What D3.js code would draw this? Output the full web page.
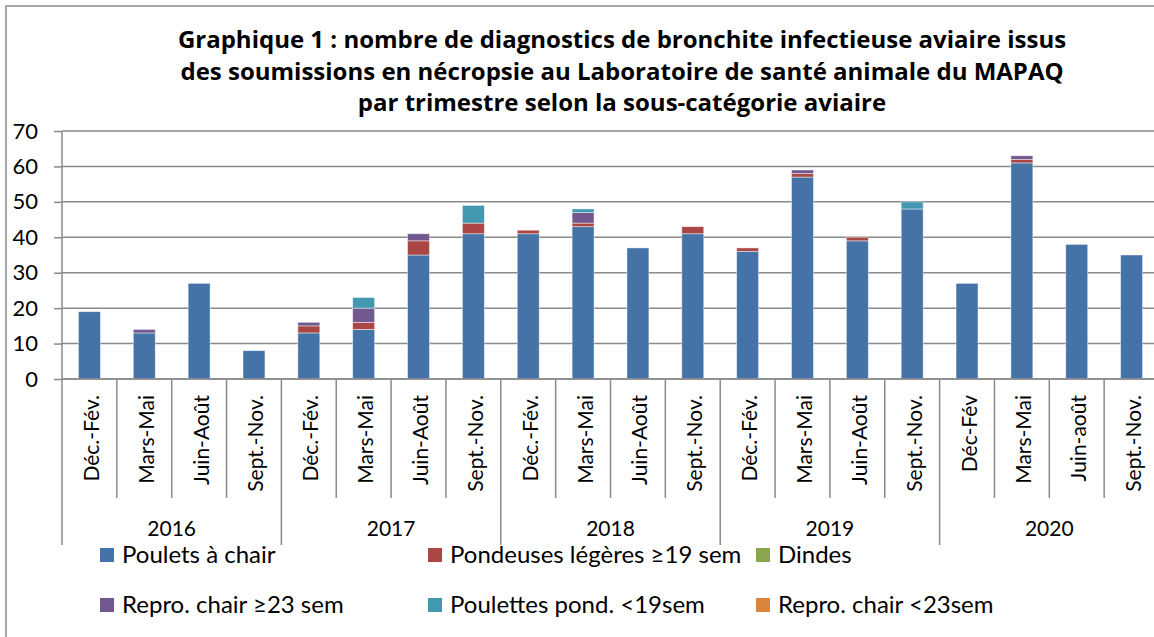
<!DOCTYPE html>
<html>
<head>
<meta charset="utf-8">
<script src="https://cdn.jsdelivr.net/npm/d3@7"></script>
<style>
  body { margin: 0; background: #fff; }
  svg { display: block; font-family: Lato, "Open Sans", sans-serif; }
</style>
</head>
<body>
<svg id="chart" width="1154" height="637"></svg>
<script>
// ---- data ----
var titleLines = [
  "Graphique 1 : nombre de diagnostics de bronchite infectieuse aviaire issus",
  "des soumissions en nécropsie au Laboratoire de santé animale du MAPAQ",
  "par trimestre selon la sous-catégorie aviaire"
];
var years = ["2016", "2017", "2018", "2019", "2020"];
var quarters = [
  "Déc.-Fév.", "Mars-Mai", "Juin-Août", "Sept.-Nov.",
  "Déc.-Fév.", "Mars-Mai", "Juin-Août", "Sept.-Nov.",
  "Déc.-Fév.", "Mars-Mai", "Juin-Août", "Sept.-Nov.",
  "Déc.-Fév.", "Mars-Mai", "Juin-Août", "Sept.-Nov.",
  "Déc-Fév", "Mars-Mai", "Juin-août", "Sept.-Nov."
];
var seriesNames = ["Poulets à chair", "Pondeuses légères ≥19 sem", "Dindes",
  "Repro. chair ≥23 sem", "Poulettes pond. <19sem", "Repro. chair <23sem"];
var seriesColors = ["#4572A7", "#AA4643", "#89A54E", "#71588F", "#4198AF", "#DB843D"];

var poulets    = [19, 13, 27, 8, 13, 14, 35, 41, 41, 43, 37, 41, 36, 57, 39, 48, 27, 61, 38, 35];
var pondeuses  = [0, 0, 0, 0, 2, 2, 4, 3, 1, 1, 0, 2, 1, 1, 1, 0, 0, 1, 0, 0];
var dindes     = [0, 0, 0, 0, 0, 0, 0, 0, 0, 0, 0, 0, 0, 0, 0, 0, 0, 0, 0, 0];
var reproGe23  = [0, 1, 0, 0, 1, 4, 2, 0, 0, 3, 0, 0, 0, 1, 0, 0, 0, 1, 0, 0];
var poulettes  = [0, 0, 0, 0, 0, 3, 0, 5, 0, 1, 0, 0, 0, 0, 0, 2, 0, 0, 0, 0];
var reproLt23  = [0, 0, 0, 0, 0, 0, 0, 0, 0, 0, 0, 0, 0, 0, 0, 0, 0, 0, 0, 0];
var yTicks = [0, 10, 20, 30, 40, 50, 60, 70];

var allSeries = [poulets, pondeuses, dindes, reproGe23, poulettes, reproLt23];

// table for d3.stack
var rows = quarters.map(function(q, i) {
  var r = { idx: i };
  seriesNames.forEach(function(s, k) { r[s] = allSeries[k][i]; });
  return r;
});

// ---- layout ----
var plotLeft = 62, plotRight = 1159, plotTop = 131, plotBottom = 379;
var svg = d3.select("#chart");
var grey = "#8a8a8a";

// chart frame (right and bottom edges fall outside the picture)
svg.append("rect")
  .attr("x", 6).attr("y", 6).attr("width", 1170).attr("height", 660)
  .attr("fill", "none").attr("stroke", grey).attr("stroke-width", 1.5);

// title
svg.append("g").selectAll("text")
  .data(titleLines)
  .enter().append("text")
  .attr("x", 622)
  .attr("y", function(d, i) { return 48 + i * 31.5; })
  .attr("text-anchor", "middle")
  .attr("font-family", "'Open Sans', sans-serif")
  .attr("font-weight", "bold")
  .attr("font-size", 24)
  .attr("fill", "#000")
  .text(function(d) { return d; });

var x = d3.scaleBand()
  .domain(d3.range(quarters.length))
  .range([plotLeft, plotRight])
  .paddingInner(0.6)
  .paddingOuter(0.3);

var y = d3.scaleLinear().domain([0, 70]).range([plotBottom, plotTop]);

// gridlines
svg.append("g").selectAll("line")
  .data(yTicks)
  .enter().append("line")
  .attr("x1", plotLeft).attr("x2", plotRight)
  .attr("y1", function(d) { return y(d); })
  .attr("y2", function(d) { return y(d); })
  .attr("stroke", grey).attr("stroke-width", 1.5);

// y axis
var yAxis = svg.append("g")
  .attr("transform", "translate(" + plotLeft + ",0)")
  .call(d3.axisLeft(y).tickValues(yTicks).tickSize(8).tickPadding(16));
yAxis.select(".domain").remove();
yAxis.selectAll(".tick line").attr("stroke", grey).attr("stroke-width", 1.5);
yAxis.selectAll(".tick text")
  .attr("font-size", 22).attr("fill", "#000")
  .attr("font-family", "Lato, sans-serif");

// stacked bars
var stack = d3.stack().keys(seriesNames);
var layers = stack(rows);

svg.append("g").selectAll("g")
  .data(layers)
  .enter().append("g")
  .attr("fill", function(d, i) { return seriesColors[i]; })
  .selectAll("rect")
  .data(function(d) { return d.filter(function(p) { return p[1] > p[0]; }); })
  .enter().append("rect")
  .attr("x", function(d) { return x(d.data.idx); })
  .attr("width", x.bandwidth())
  .attr("y", function(d) { return y(d[1]); })
  .attr("height", function(d) { return y(d[0]) - y(d[1]); })
  .attr("stroke", "rgba(255,255,255,0.55)")
  .attr("stroke-width", 0.8);

// x axis line
svg.append("line")
  .attr("x1", plotLeft).attr("x2", plotRight)
  .attr("y1", plotBottom).attr("y2", plotBottom)
  .attr("stroke", grey).attr("stroke-width", 1.5);

// y axis line
svg.append("line")
  .attr("x1", plotLeft).attr("x2", plotLeft)
  .attr("y1", plotTop).attr("y2", plotBottom)
  .attr("stroke", grey).attr("stroke-width", 1.5);

// category separators
var step = x.step();
var edge = function(i) { return plotLeft + i * step; };
svg.append("g").selectAll("line")
  .data(d3.range(quarters.length + 1))
  .enter().append("line")
  .attr("x1", function(i) { return edge(i); })
  .attr("x2", function(i) { return edge(i); })
  .attr("y1", plotBottom)
  .attr("y2", function(i) { return i % 4 === 0 ? 545 : 498; })
  .attr("stroke", grey).attr("stroke-width", 1.5);

// quarter labels (rotated)
svg.append("g").selectAll("text")
  .data(quarters)
  .enter().append("text")
  .attr("transform", function(d, i) {
    return "translate(" + (x(i) + x.bandwidth() / 2 + 1) + ",395) rotate(-90)";
  })
  .attr("text-anchor", "end")
  .attr("dominant-baseline", "central")
  .attr("font-size", 21)
  .text(function(d) { return d; });

// year labels
svg.append("g").selectAll("text")
  .data(years)
  .enter().append("text")
  .attr("x", function(d, i) { return (edge(i * 4) + edge(i * 4 + 4)) / 2; })
  .attr("y", 536)
  .attr("text-anchor", "middle")
  .attr("font-size", 21)
  .text(function(d) { return d; });

// legend: 3 columns, 2 rows
var legend = svg.append("g").selectAll("g")
  .data(seriesNames)
  .enter().append("g")
  .attr("transform", function(d, i) {
    return "translate(" + (100 + (i % 3) * 328) + "," + (548 + Math.floor(i / 3) * 50) + ")";
  });
legend.append("rect")
  .attr("width", 14).attr("height", 14)
  .attr("fill", function(d, i) { return seriesColors[i]; });
legend.append("text")
  .attr("x", 22).attr("y", 15)
  .attr("font-size", 24)
  .text(function(d) { return d; });
</script>
</body>
</html>
